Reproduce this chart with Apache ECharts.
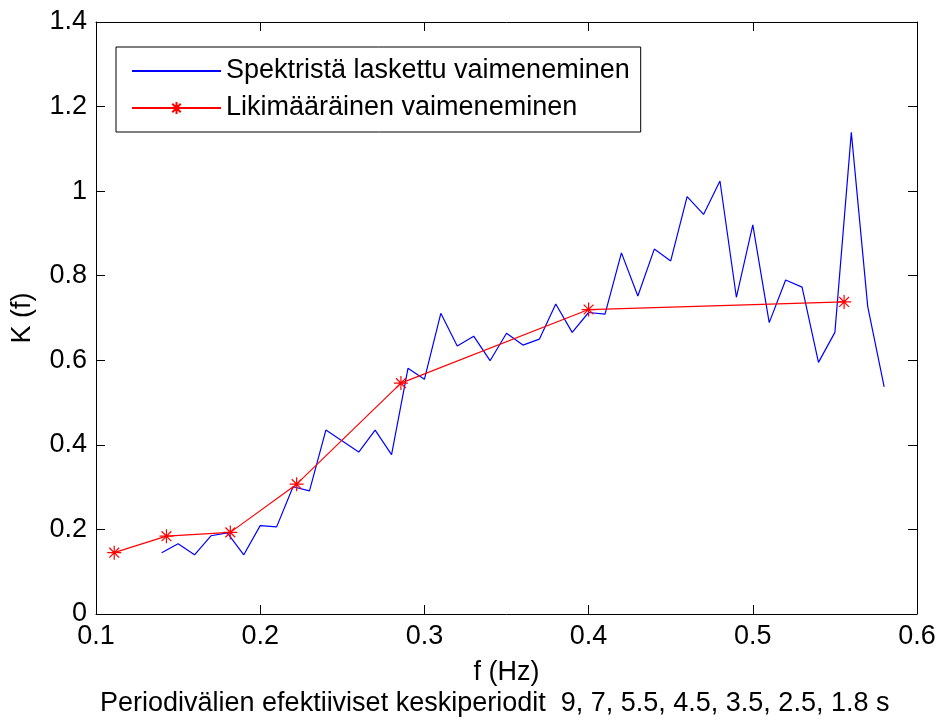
<!DOCTYPE html>
<html>
<head>
<meta charset="utf-8">
<script src="https://cdn.jsdelivr.net/npm/echarts@6/dist/echarts.min.js"></script>
<style>
  html, body { margin: 0; padding: 0; background: #fff; }
  #chart { width: 939px; height: 720px; }
</style>
</head>
<body>
<div id="chart"></div>
<script>
// Damping computed from the spectrum (sampled every 0.01 Hz)
const freqSpectrum = [0.14, 0.15, 0.16, 0.17, 0.18, 0.19, 0.20, 0.21, 0.22, 0.23,
  0.24, 0.25, 0.26, 0.27, 0.28, 0.29, 0.30, 0.31, 0.32, 0.33,
  0.34, 0.35, 0.36, 0.37, 0.38, 0.39, 0.40, 0.41, 0.42, 0.43,
  0.44, 0.45, 0.46, 0.47, 0.48, 0.49, 0.50, 0.51, 0.52, 0.53,
  0.54, 0.55, 0.56, 0.57, 0.58];
const kSpectrum = [0.145, 0.166, 0.140, 0.185, 0.192, 0.140, 0.209, 0.206, 0.301, 0.291,
  0.435, 0.409, 0.383, 0.435, 0.377, 0.581, 0.555, 0.711, 0.634, 0.657,
  0.599, 0.664, 0.636, 0.650, 0.733, 0.666, 0.713, 0.709, 0.854, 0.752,
  0.863, 0.835, 0.987, 0.945, 1.024, 0.749, 0.920, 0.689, 0.790, 0.773,
  0.595, 0.666, 1.139, 0.727, 0.537];

// Approximate damping at the effective mean periods of the period bands
const periods = [9, 7, 5.5, 4.5, 3.5, 2.5, 1.8];
const freqApprox = [0.1111, 0.1429, 0.1818, 0.2222, 0.2857, 0.4, 0.5556];
const kApprox = [0.145, 0.184, 0.193, 0.307, 0.546, 0.720, 0.738];

const seriesNames = ['Spektristä laskettu vaimeneminen', 'Likimääräinen vaimeneminen'];
const xTitle = 'f (Hz)';
const yTitle = 'K (f)';
const captionLead = 'Periodivälien efektiiviset keskiperiodit';

const FONT = '"Liberation Sans", Arial, sans-serif';
const FS = 27;
const ASTERISK = 'path://M5,0L5,10M0,5L10,5M1.5,1.5L8.5,8.5M1.5,8.5L8.5,1.5M4.3,4.3L5.7,4.3L5.7,5.7L4.3,5.7Z';

const chart = echarts.init(document.getElementById('chart'), null, { renderer: 'canvas' });

const boxAxis = {
  axisLine: { show: true, onZero: false, lineStyle: { color: '#000', width: 1 } },
  axisTick: { show: true, inside: true, length: 9, lineStyle: { color: '#000', width: 1 } },
  splitLine: { show: false }
};

chart.setOption({
  animation: false,
  backgroundColor: '#fff',
  textStyle: { fontFamily: FONT },
  grid: { left: 96, right: 22, top: 22, bottom: 106, containLabel: false },
  xAxis: [
    Object.assign({
      type: 'value', min: 0.1, max: 0.6, interval: 0.1, position: 'bottom',
      name: xTitle, nameLocation: 'middle', nameGap: 45,
      nameTextStyle: { fontFamily: FONT, fontSize: FS, color: '#000' },
      axisLabel: { fontFamily: FONT, fontSize: FS, color: '#000', margin: 9,
        formatter: v => String(Math.round(v * 10) / 10) }
    }, boxAxis),
    Object.assign({
      type: 'value', min: 0.1, max: 0.6, interval: 0.1, position: 'top',
      axisLabel: { show: false }
    }, boxAxis)
  ],
  yAxis: [
    Object.assign({
      type: 'value', min: 0, max: 1.4, interval: 0.2, position: 'left',
      name: yTitle, nameLocation: 'middle', nameGap: 60,
      nameTextStyle: { fontFamily: FONT, fontSize: FS, color: '#000' },
      axisLabel: { fontFamily: FONT, fontSize: FS, color: '#000', margin: 9,
        formatter: v => String(Math.round(v * 10) / 10) }
    }, boxAxis),
    Object.assign({
      type: 'value', min: 0, max: 1.4, interval: 0.2, position: 'right',
      axisLabel: { show: false }
    }, boxAxis)
  ],
  legend: {
    orient: 'vertical',
    left: 116, top: 47,
    padding: [10, 11, 10, 15],
    itemGap: 9,
    itemWidth: 89, itemHeight: 15,
    borderColor: '#000', borderWidth: 1, borderRadius: 0,
    backgroundColor: '#fff',
    textStyle: { fontFamily: FONT, fontSize: FS, color: '#000', lineHeight: 28 },
    data: [
      { name: seriesNames[0], itemStyle: { opacity: 0 } },
      { name: seriesNames[1] }
    ]
  },
  series: [
    {
      name: seriesNames[0], type: 'line',
      data: freqSpectrum.map((f, i) => [f, kSpectrum[i]]),
      symbol: 'none', showSymbol: false,
      lineStyle: { color: '#0000ff', width: 1.2 },
      itemStyle: { color: '#0000ff' },
      z: 2
    },
    {
      name: seriesNames[1], type: 'line',
      data: freqApprox.map((f, i) => [f, kApprox[i]]),
      symbol: ASTERISK, symbolSize: 14, showSymbol: true,
      lineStyle: { color: '#ff0000', width: 1.2 },
      itemStyle: { color: '#b00000', borderColor: '#ff0000', borderWidth: 1.2 },
      z: 3
    }
  ],
  graphic: [
    {
      type: 'text', left: 100, top: 690,
      style: {
        text: captionLead + '  ' + periods.join(', ') + ' s',
        fontFamily: FONT, fontSize: FS, fill: '#000'
      }
    }
  ]
});
</script>
</body>
</html>
